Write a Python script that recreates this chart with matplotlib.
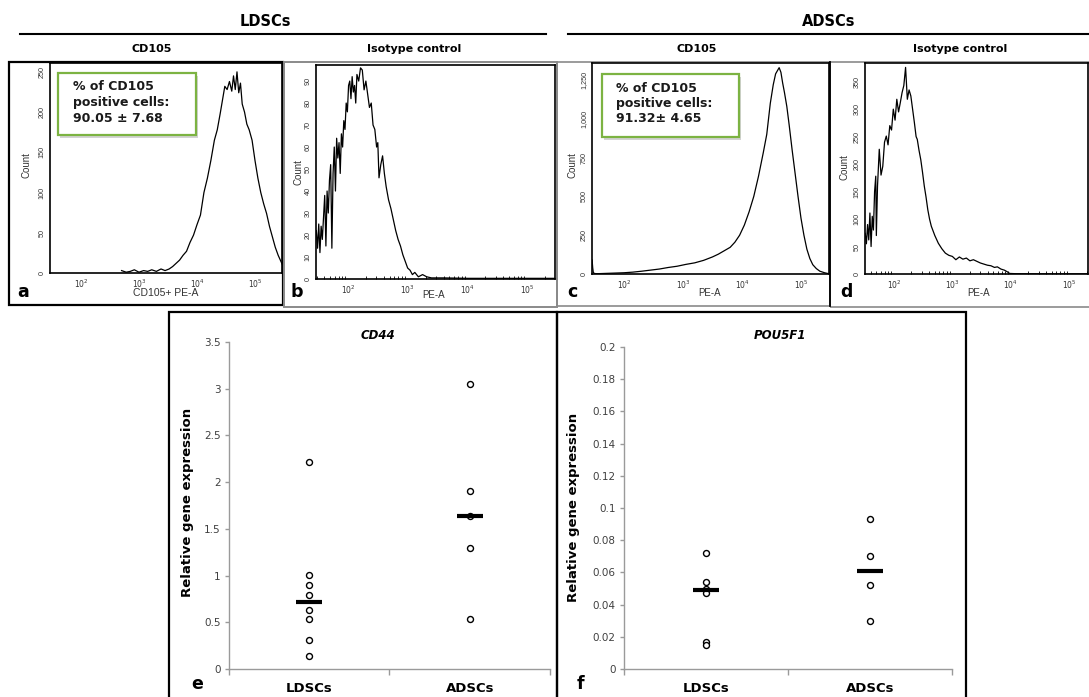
import matplotlib
matplotlib.use('Agg')
import matplotlib.pyplot as plt
from matplotlib.patches import Rectangle
from matplotlib.lines import Line2D
from matplotlib.ticker import LogLocator, NullFormatter, FixedLocator
import numpy as np

# ---------------- data ----------------
# Flow cytometry histograms: log10(PE-A) position and event count
a_logx = [2.70, 2.78, 2.85, 2.92, 3.00, 3.08, 3.15, 3.22, 3.30, 3.38, 3.45, 3.52, 3.58, 3.64,
          3.70, 3.76, 3.82, 3.88, 3.94, 4.00, 4.06, 4.12, 4.18, 4.24, 4.30, 4.35, 4.40, 4.44,
          4.48, 4.52, 4.56, 4.60, 4.63, 4.66, 4.69, 4.72, 4.75, 4.78, 4.82, 4.86, 4.90, 4.95,
          5.00, 5.05, 5.10, 5.15, 5.20, 5.25, 5.30, 5.35, 5.40, 5.45, 5.50]
a_count = [3, 1, 2, 4, 1, 3, 2, 4, 2, 5, 3, 5, 8, 12,
           16, 22, 27, 38, 47, 60, 72, 100, 118, 140, 165, 178, 198, 215,
           232, 228, 238, 226, 245, 228, 250, 224, 236, 210, 200, 185, 178, 165,
           140, 118, 100, 86, 74, 58, 45, 32, 22, 14, 6]

b_logx = [1.47, 1.49, 1.51, 1.53, 1.55, 1.57, 1.59, 1.61, 1.63, 1.65, 1.67, 1.69, 1.71, 1.73,
          1.75, 1.77, 1.79, 1.81, 1.83, 1.85, 1.87, 1.89, 1.91, 1.93, 1.95, 1.97, 1.99, 2.01,
          2.03, 2.05, 2.07, 2.09, 2.11, 2.13, 2.15, 2.18, 2.21, 2.24, 2.27, 2.30, 2.33, 2.36,
          2.39, 2.42, 2.45, 2.48, 2.50, 2.52, 2.55, 2.58, 2.61, 2.64, 2.68, 2.72, 2.76, 2.80,
          2.84, 2.88, 2.92, 2.96, 3.00, 3.04, 3.08, 3.12, 3.18, 3.25, 3.32, 3.40, 3.60, 4.00,
          4.50, 5.00, 5.47]
b_count = [22, 14, 25, 12, 24, 18, 28, 38, 15, 40, 30, 45, 52, 14,
           48, 60, 40, 64, 55, 62, 48, 66, 60, 72, 68, 80, 76, 88,
           90, 82, 92, 85, 88, 80, 93, 90, 96, 95, 86, 90, 84, 78,
           80, 70, 68, 60, 62, 46, 52, 56, 48, 42, 36, 32, 27, 22,
           18, 15, 11, 8, 5, 4, 2, 3, 1, 2, 1, 0.5, 0.5, 0.3,
           0.3, 0.3, 0.3]

c_logx = [1.46, 1.47, 1.48, 1.50, 1.55, 1.70, 1.85, 2.00, 2.15, 2.30, 2.45, 2.60, 2.75, 2.90,
          3.05, 3.20, 3.35, 3.50, 3.60, 3.70, 3.80, 3.88, 3.96, 4.04, 4.12, 4.20, 4.28, 4.36,
          4.42, 4.48, 4.53, 4.57, 4.60, 4.63, 4.66, 4.69, 4.72, 4.76, 4.80, 4.85, 4.90, 4.95,
          5.00, 5.05, 5.10, 5.15, 5.20, 5.26, 5.32, 5.40, 5.47]
c_count = [90, 40, 10, 3, 2, 4, 6, 8, 12, 18, 25, 32, 42, 50,
           62, 72, 88, 110, 128, 150, 172, 205, 250, 315, 400, 500, 630, 780,
           900, 1100, 1220, 1290, 1310, 1330, 1300, 1230, 1170, 1080, 960, 800, 650, 500,
           360, 250, 160, 100, 60, 35, 18, 8, 2]

d_logx = [1.51, 1.53, 1.55, 1.57, 1.59, 1.61, 1.63, 1.65, 1.67, 1.69, 1.70, 1.72, 1.75, 1.78,
          1.81, 1.84, 1.87, 1.90, 1.93, 1.96, 1.99, 2.02, 2.05, 2.08, 2.11, 2.14, 2.17, 2.20,
          2.23, 2.26, 2.29, 2.32, 2.35, 2.38, 2.40, 2.43, 2.46, 2.49, 2.52, 2.55, 2.58, 2.61,
          2.64, 2.70, 2.76, 2.82, 2.88, 2.94, 3.00, 3.06, 3.12, 3.18, 3.24, 3.30, 3.36, 3.42,
          3.48, 3.54, 3.60, 3.66, 3.72, 3.77, 3.83, 3.89, 3.94, 3.98, 4.10, 4.50, 5.00, 5.32]
d_count = [74, 55, 90, 62, 111, 50, 105, 80, 150, 178, 70, 160, 227, 180,
           196, 240, 251, 235, 270, 262, 300, 280, 318, 295, 312, 330, 343, 376,
           318, 335, 324, 300, 276, 250, 245, 225, 208, 185, 160, 140, 117, 100,
           87, 70, 56, 46, 38, 34, 32, 26, 31, 27, 29, 24, 26, 23,
           20, 18, 16, 15, 12, 13, 9, 7, 4, 1, 0.5, 0.3, 0.3, 0.3]

# qPCR relative gene expression
groups = ['LDSCs', 'ADSCs']
cd44_ldsc = [2.22, 1.01, 0.90, 0.79, 0.63, 0.53, 0.31, 0.14]
cd44_adsc = [3.05, 1.90, 1.64, 1.30, 0.53]
cd44_median = [0.72, 1.64]
pou_ldsc = [0.072, 0.054, 0.050, 0.047, 0.017, 0.015]
pou_adsc = [0.093, 0.070, 0.052, 0.030]
pou_median = [0.049, 0.061]

cd44_yticks = [0, 0.5, 1, 1.5, 2, 2.5, 3, 3.5]
cd44_yticklabels = ['0', '0.5', '1', '1.5', '2', '2.5', '3', '3.5']
pou_yticks = [0, 0.02, 0.04, 0.06, 0.08, 0.1, 0.12, 0.14, 0.16, 0.18, 0.2]
pou_yticklabels = ['0', '0.02', '0.04', '0.06', '0.08', '0.1', '0.12', '0.14', '0.16', '0.18', '0.2']

facs_xticks = [1e2, 1e3, 1e4, 1e5]
facs_xticklabels = [r'$10^2$', r'$10^3$', r'$10^4$', r'$10^5$']
a_yticks = [0, 50, 100, 150, 200, 250]
b_yticks = [0, 10, 20, 30, 40, 50, 60, 70, 80, 90]
c_yticks = [0, 250, 500, 750, 1000, 1250]
c_yticklabels = ['0', '250', '500', '750', '1,000', '1,250']
d_yticks = [0, 50, 100, 150, 200, 250, 300, 350]

# ---------------- figure ----------------
W, H = 1089, 697
fig = plt.figure(figsize=(W / 100, H / 100), dpi=100)
fig.patch.set_facecolor('white')

BOLD = 'DejaVu Sans'
ARIAL = 'Liberation Sans'


def frac(l, t, r, b):
    return [l / W, 1 - b / H, (r - l) / W, (b - t) / H]


def px(x, y):
    return x / W, 1 - y / H


def box(l, t, r, b, ec='black', lw=1.5, fc='none', z=0, alpha=1.0):
    fig.add_artist(Rectangle((l / W, 1 - b / H), (r - l) / W, (b - t) / H,
                             transform=fig.transFigure, fill=(fc != 'none'),
                             facecolor=fc if fc != 'none' else 'white', edgecolor=ec,
                             lw=lw, zorder=z, alpha=alpha))


def hline(x0, x1, y, lw=1.5, color='black'):
    fig.add_artist(Line2D([x0 / W, x1 / W], [1 - y / H, 1 - y / H],
                          transform=fig.transFigure, color=color, lw=lw))


def ftext(x, y, s, **kw):
    fig.text(x / W, 1 - y / H, s, **kw)


# headers
ftext(265, 21, 'LDSCs', ha='center', va='center', fontsize=10.5, fontweight='bold', family=BOLD)
ftext(829, 21, 'ADSCs', ha='center', va='center', fontsize=10.5, fontweight='bold', family=BOLD)
hline(20, 546, 34, lw=1.5)
hline(568, 1089, 34, lw=1.5)
for x, s in [(152, 'CD105'), (414, 'Isotype control'), (697, 'CD105'), (960, 'Isotype control')]:
    ftext(x, 49, s, ha='center', va='center', fontsize=8, fontweight='bold', family=BOLD)

# panel frames (top row)
box(9, 62, 283, 305, ec='black', lw=1.6)
box(284, 62, 557, 307, ec='#8a8a8a', lw=1.4)
box(557, 62, 830, 306, ec='#8a8a8a', lw=1.2)
box(830, 62, 1095, 307, ec='#8a8a8a', lw=1.2)
fig.add_artist(Line2D([830 / W, 830 / W], [1 - 62 / H, 1 - 306 / H],
                      transform=fig.transFigure, color='black', lw=1.3))

# panel frames (bottom row)
box(169, 312, 557, 710, ec='black', lw=1.6)
box(557, 312, 966, 710, ec='black', lw=1.6)


def facs(rect, logx, counts, xlim_log, ylim, yticks, yticklabels, minor=False):
    ax = fig.add_axes(frac(*rect))
    ax.set_xscale('log')
    ax.plot(10 ** np.array(logx), counts, color='black', lw=0.9)
    ax.set_xlim(10 ** xlim_log[0], 10 ** xlim_log[1])
    ax.set_ylim(*ylim)
    ax.set_xticks(facs_xticks)
    ax.set_xticklabels(facs_xticklabels, fontsize=5.5, color='#333333', family=ARIAL)
    ax.set_yticks(yticks)
    ax.set_yticklabels(yticklabels, fontsize=5.2, color='#333333', family=ARIAL,
                       rotation=90, va='center')
    ax.tick_params(axis='both', which='major', length=0)
    ax.tick_params(axis='x', pad=3)
    ax.tick_params(axis='y', pad=3)
    if minor:
        ax.xaxis.set_minor_locator(LogLocator(base=10, subs=np.arange(2, 10)))
        ax.xaxis.set_minor_formatter(NullFormatter())
        ax.tick_params(axis='x', which='minor', length=2, direction='in', width=0.6)
    else:
        ax.xaxis.set_minor_locator(FixedLocator([]))
    for sp in ax.spines.values():
        sp.set_linewidth(1.2)
        sp.set_color('black')
    ax.patch.set_alpha(0)
    return ax


ax_a = facs((50, 63, 282, 273), a_logx, a_count, (1.466, 5.466), (0, 261),
            a_yticks, [str(v) for v in a_yticks])
ax_b = facs((316, 65, 555, 279), b_logx, b_count, (1.464, 5.47), (0, 97.3),
            b_yticks, [str(v) for v in b_yticks], minor=True)
ax_c = facs((592, 63, 829, 274), c_logx, c_count, (1.458, 5.475), (0, 1360),
            c_yticks, c_yticklabels)
ax_d = facs((865, 63, 1088, 274), d_logx, d_count, (1.506, 5.32), (0, 384),
            d_yticks, [str(v) for v in d_yticks], minor=True)

# FACS axis labels
for x, y in [(27, 165), (299, 172), (573, 165), (845, 167)]:
    ftext(x, y, 'Count', rotation=90, ha='center', va='center', fontsize=7,
          color='#333333', family=ARIAL)
ftext(166, 293, 'CD105+ PE-A', ha='center', va='center', fontsize=7.5, color='#333333', family=ARIAL)
for x, y in [(434, 295), (710, 293), (979, 293)]:
    ftext(x, y, 'PE-A', ha='center', va='center', fontsize=7, color='#333333', family=ARIAL)

# panel letters
for x, y, s in [(23, 292, 'a'), (297, 292, 'b'), (572, 292, 'c'), (846, 292, 'd'),
                (197, 684, 'e'), (580, 684, 'f')]:
    ftext(x, y, s, ha='center', va='center', fontsize=12.5, fontweight='bold', family=BOLD)

# green annotation boxes
for (l, t, r, b), tx, lines in [((58, 73, 196, 135), 73, ['% of CD105', 'positive cells:', '90.05 ± 7.68']),
                                ((602, 74, 739, 137), 616, ['% of CD105', 'positive cells:', '91.32± 4.65'])]:
    box(l + 2, t + 3, r + 2, b + 3, ec='none', fc='#c8c8c8', lw=0, z=5, alpha=0.8)
    box(l, t, r, b, ec='#7cb342', fc='white', lw=1.6, z=6)
    for i, s in enumerate(lines):
        fig.text(tx / W, 1 - (t + 14 + 15.5 * i) / H, s, ha='left', va='center',
                 fontsize=9, fontweight='bold', family=BOLD, color='#1a1a1a', zorder=7)


# ---------------- dot plots ----------------
def dotplot(rect, ldsc, adsc, med, ylim, yticks, yticklabels):
    ax = fig.add_axes(frac(*rect))
    xs = [0.5, 1.5]
    for xpos, vals in zip(xs, [ldsc, adsc]):
        ax.plot([xpos] * len(vals), vals, 'o', ms=4.3, mfc='white', mec='black', mew=1.0,
                zorder=3, clip_on=False)
    for xpos, m in zip(xs, med):
        ax.hlines(m, xpos - 0.082, xpos + 0.082, color='black', lw=3.0, zorder=4)
    ax.set_xlim(0, 2)
    ax.set_ylim(*ylim)
    ax.set_yticks(yticks)
    ax.set_yticklabels(yticklabels, fontsize=7.5, color='#404040', family='DejaVu Sans')
    ax.set_xticks([0, 1, 2])
    ax.set_xticklabels(['', '', ''])
    ax.set_xticks(xs, minor=True)
    ax.set_xticklabels(groups, minor=True, fontsize=9.5, fontweight='bold', family=BOLD)
    ax.tick_params(axis='x', which='major', length=4, width=1, color='#9a9a9a', direction='out')
    ax.tick_params(axis='x', which='minor', length=0, pad=9)
    ax.tick_params(axis='y', length=3, width=1, color='#9a9a9a', direction='out', pad=3)
    for s in ['top', 'right']:
        ax.spines[s].set_visible(False)
    for s in ['left', 'bottom']:
        ax.spines[s].set_color('#9a9a9a')
        ax.spines[s].set_linewidth(1.0)
    ax.patch.set_alpha(0)
    return ax


ax_e = dotplot((229, 342, 550, 669), cd44_ldsc, cd44_adsc, cd44_median, (0, 3.5),
               cd44_yticks, cd44_yticklabels)
ax_f = dotplot((624, 347, 952, 669), pou_ldsc, pou_adsc, pou_median, (0, 0.2),
               pou_yticks, pou_yticklabels)

ftext(378, 335, 'CD44', ha='center', va='center', fontsize=8.5, fontweight='bold',
      style='italic', family=BOLD)
ftext(780, 335, 'POU5F1', ha='center', va='center', fontsize=8.5, fontweight='bold',
      style='italic', family=BOLD)
ftext(187, 502, 'Relative gene expression', rotation=90, ha='center', va='center',
      fontsize=9.5, fontweight='bold', family=BOLD)
ftext(573, 507, 'Relative gene expression', rotation=90, ha='center', va='center',
      fontsize=9.5, fontweight='bold', family=BOLD)

fig.savefig('out.png', dpi=100, facecolor='white')
